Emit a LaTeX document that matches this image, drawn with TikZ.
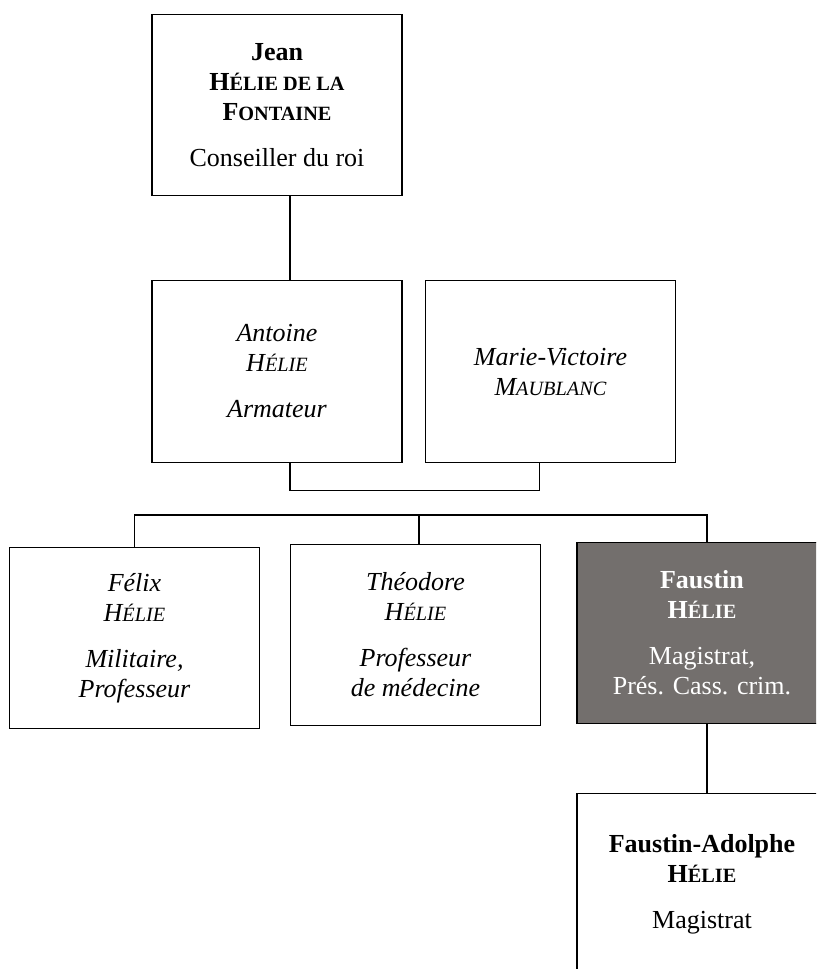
\documentclass[tikz,border=0pt]{standalone}
\usepackage{fontspec}
\setmainfont{Liberation Serif}
\definecolor{boxgray}{RGB}{115,111,109}
\newcommand\psc[1]{{\fontsize{15.2pt}{22.5pt}\selectfont #1}}
\tikzset{
  person/.style={draw=black, line width=0.9pt, fill=white, minimum width=187.5pt,
    minimum height=136pt, inner sep=0pt, align=center,
    font=\fontsize{19.5pt}{22.5pt}\selectfont},
  highlighted/.style={person, fill=boxgray, text=white},
  link/.style={draw=black, line width=0.8pt}
}
\begin{document}
\begin{tikzpicture}[x=0.75pt,y=-0.75pt]
\useasboundingbox (0,0) rectangle (816,969);
\clip (0,0) rectangle (816,969);
\node[person] (jean) at (277,105) {\textbf{Jean}\\ \textbf{H\psc{ÉLIE DE LA}}\\ \textbf{F\psc{ONTAINE}}\\[12pt] Conseiller du roi};
\node[person] (antoine) at (277,371.5) {\textit{Antoine}\\ \textit{H\psc{ÉLIE}}\\[12pt] \textit{Armateur}};
\node[person] (marie) at (550.5,371.5) {\textit{Marie-Victoire}\\ \textit{M\psc{AUBLANC}}};
\node[person] (felix) at (134.5,638) {\textit{Félix}\\ \textit{H\psc{ÉLIE}}\\[12pt] \textit{Militaire,}\\ \textit{Professeur}};
\node[person] (theo) at (415.5,635) {\textit{Théodore}\\ \textit{H\psc{ÉLIE}}\\[12pt] \textit{Professeur}\\ \textit{de médecine}};
\node[highlighted] (faustin) at (702,633) {\textbf{Faustin}\\ \textbf{H\psc{ÉLIE}}\\[12pt] Magistrat,\\ Prés. Cass. crim.};
\node[person] (fa) at (702,884) {\textbf{Faustin-Adolphe}\\ \textbf{H\psc{ÉLIE}}\\[12pt] Magistrat};
\coordinate (barR) at (707,515);
\path[link] ([xshift=9.75pt]jean.south) -- ([xshift=9.75pt]antoine.north);
\path[link] ([xshift=9.75pt]antoine.south) -- ++(0,28) -| ([xshift=-8.6pt]marie.south);
\path[link] (felix.north) |- (barR) -- ([xshift=3.75pt]faustin.north);
\path[link] ([xshift=2.6pt]theo.north) -- ([xshift=2.6pt]theo.north |- barR);
\path[link] ([xshift=3.75pt]faustin.south) -- ([xshift=3.75pt]fa.north);
\end{tikzpicture}
\end{document}
